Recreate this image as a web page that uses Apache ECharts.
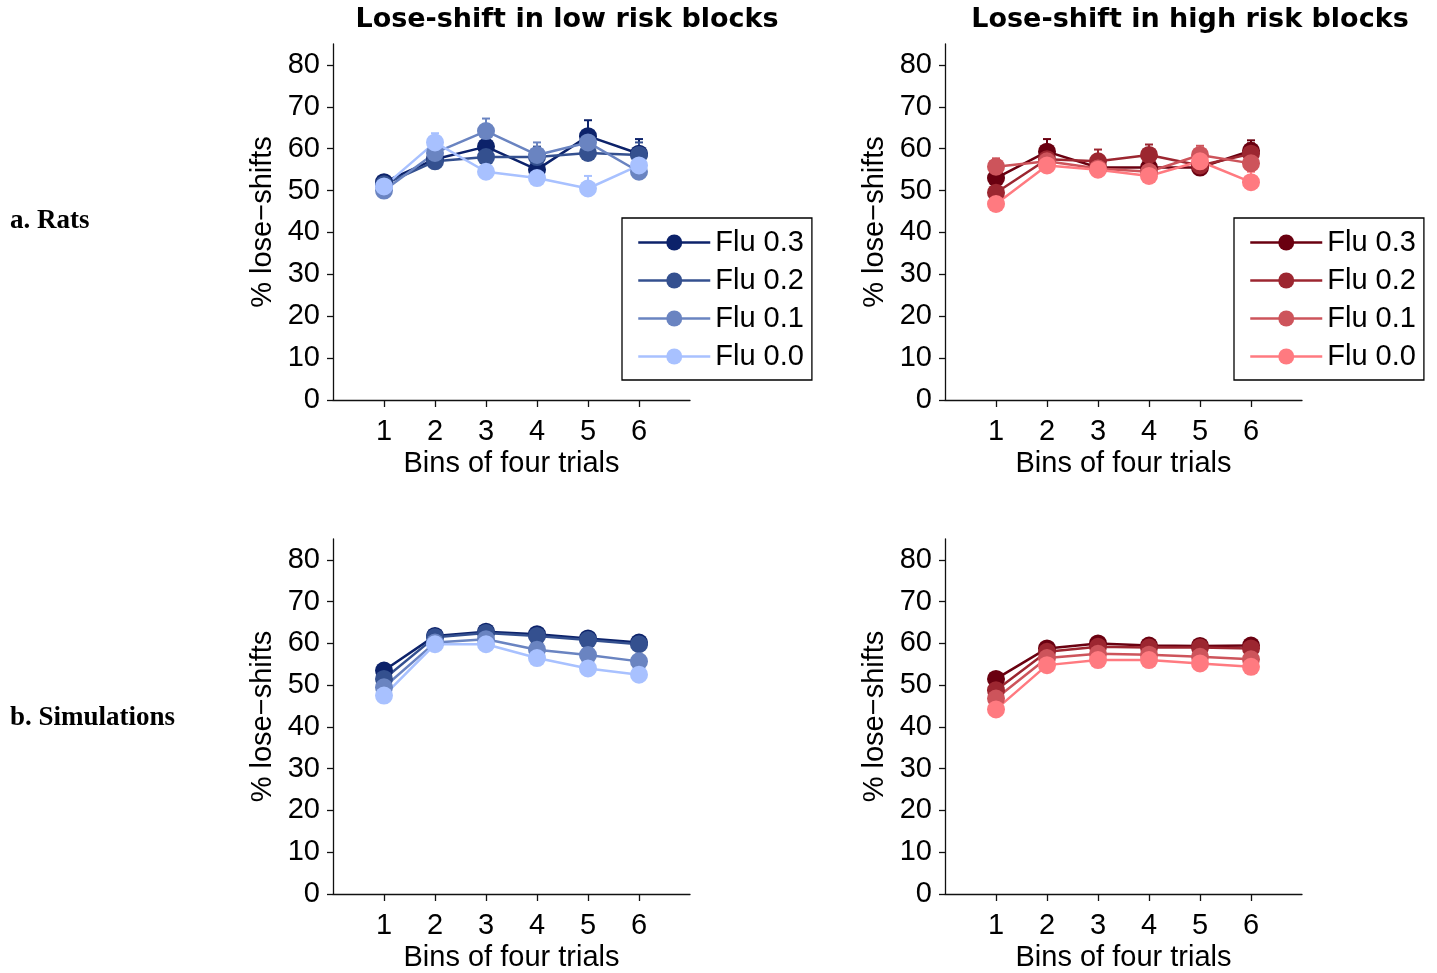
<!DOCTYPE html>
<html>
<head>
<meta charset="utf-8">
<script src="https://cdn.jsdelivr.net/npm/echarts@6/dist/echarts.min.js"></script>
<style>
  html, body { margin: 0; padding: 0; background: #fff; }
  #chart { width: 1437px; height: 973px; }
</style>
</head>
<body>
<div id="chart"></div>
<script>
// Bins on the x axis and tick values on the y axis
const bins = [1, 2, 3, 4, 5, 6];
const yTicks = [0, 10, 20, 30, 40, 50, 60, 70, 80];
const flu = ['Flu 0.3', 'Flu 0.2', 'Flu 0.1', 'Flu 0.0'];

// Rats, low risk blocks: % lose-shifts per bin (mean) and SEM
const ratsLow03 = [52, 57.5, 60.5, 55, 63, 58.8];
const ratsLow02 = [51.5, 57, 58, 58, 59, 58.5];
const ratsLow01 = [50, 59, 64.2, 58.5, 61.5, 54.5];
const ratsLow00 = [51, 61.5, 54.5, 53, 50.5, 56];
const semLow03 = [1.5, 2.5, 3, 2.5, 3.8, 3.5];
const semLow02 = [1.5, 2, 2.5, 2.5, 3, 3];
const semLow01 = [1.5, 2.5, 3, 3, 3, 3];
const semLow00 = [1.5, 2.2, 2.5, 2.5, 3, 2.5];

// Rats, high risk blocks
const ratsHigh03 = [53, 59.3, 55.5, 55.5, 55.5, 59.5];
const ratsHigh02 = [49.5, 57.5, 57, 58.5, 56, 58.8];
const ratsHigh01 = [55.7, 57, 55.3, 54.5, 58.5, 56.5];
const ratsHigh00 = [46.8, 56, 55, 53.5, 57, 52];
const semHigh03 = [2, 3, 3, 2.5, 2.5, 2.5];
const semHigh02 = [2, 2.5, 2.8, 2.5, 2.5, 2.5];
const semHigh01 = [2, 2.5, 2.5, 2.5, 2.2, 2.5];
const semHigh00 = [2, 2.5, 2.5, 2.5, 2.5, 2.5];

// Simulations, low risk blocks
const simLow03 = [53.5, 61.8, 62.8, 62.2, 61.2, 60.2];
const simLow02 = [51.5, 61.5, 62.5, 61.8, 60.8, 59.8];
const simLow01 = [49.5, 60.2, 61, 58.5, 57.2, 55.7];
const simLow00 = [47.5, 59.8, 59.8, 56.5, 54, 52.5];

// Simulations, high risk blocks
const simHigh03 = [51.5, 58.8, 60, 59.5, 59.4, 59.5];
const simHigh02 = [48.8, 58, 59.2, 59, 59, 58.8];
const simHigh01 = [46.8, 56.5, 57.5, 57.3, 56.8, 56.2];
const simHigh00 = [44.2, 54.8, 56, 56, 55.2, 54.4];

const blues = ['#0c226a', '#34508f', '#6a84c1', '#a8c1ff'];
const reds = ['#6a0010', '#9c2630', '#cd545b', '#ff7a80'];

const FONT = '"Liberation Sans", Arial, Helvetica, sans-serif';
const FS = 29;

// Panel frames: [left, top] of each plotting area
const panels = [
  { left: 333, top: 44 },   // rats, low risk
  { left: 945, top: 44 },   // rats, high risk
  { left: 333, top: 539 },  // simulations, low risk
  { left: 945, top: 539 }   // simulations, high risk
];
const PW = 357, PH = 356;

const grids = panels.map(p => ({ left: p.left, top: p.top, width: PW, height: PH, containLabel: false }));

const axisLineStyle = { color: '#111', width: 1.3 };

const xAxes = panels.map((p, i) => ({
  type: 'value', gridIndex: i, min: 0, max: 7,
  name: 'Bins of four trials', nameLocation: 'middle', nameGap: 49,
  nameTextStyle: { fontSize: FS, fontFamily: FONT, color: '#000' },
  axisLine: { show: true, lineStyle: axisLineStyle },
  axisTick: { show: true, length: 7, customValues: bins, lineStyle: axisLineStyle },
  axisLabel: { customValues: bins, fontSize: FS, fontFamily: FONT, color: '#000', margin: 17 },
  splitLine: { show: false }
}));

const yAxes = panels.map((p, i) => ({
  type: 'value', gridIndex: i, min: 0, max: 85,
  name: '% lose\u2212shifts', nameLocation: 'middle', nameGap: 56, nameRotate: 90,
  nameTextStyle: { fontSize: FS, fontFamily: FONT, color: '#000' },
  axisLine: { show: true, lineStyle: axisLineStyle },
  axisTick: { show: true, length: 6, customValues: yTicks, lineStyle: axisLineStyle },
  axisLabel: { customValues: yTicks, fontSize: FS, fontFamily: FONT, color: '#000', margin: 13 },
  splitLine: { show: false }
}));

function pairs(vals) { return bins.map((b, k) => [b, vals[k]]); }
function triples(vals, sem) { return bins.map((b, k) => [b, vals[k], sem[k]]); }

function lineSeries(name, vals, color, idx) {
  return {
    type: 'line', name: name, xAxisIndex: idx, yAxisIndex: idx,
    data: pairs(vals), symbol: 'circle', symbolSize: 18,
    lineStyle: { color: color, width: 2.5 },
    itemStyle: { color: color },
    emphasis: { disabled: true }, animation: false, z: 3
  };
}

// Upper SEM whisker with a small cap
function errSeries(vals, sem, color, idx) {
  return {
    type: 'custom', xAxisIndex: idx, yAxisIndex: idx, silent: true, animation: false, z: 2,
    data: triples(vals, sem),
    encode: { x: 0, y: 1 },
    renderItem: function (params, api) {
      const x = api.value(0), y = api.value(1), e = api.value(2);
      const p0 = api.coord([x, y]);
      const p1 = api.coord([x, y + e]);
      return {
        type: 'group',
        children: [
          { type: 'line', shape: { x1: p0[0], y1: p0[1], x2: p1[0], y2: p1[1] }, style: { stroke: color, lineWidth: 2 } },
          { type: 'line', shape: { x1: p1[0] - 4, y1: p1[1], x2: p1[0] + 4, y2: p1[1] }, style: { stroke: color, lineWidth: 2 } }
        ]
      };
    }
  };
}

const series = [];
const ratsLow = [ratsLow03, ratsLow02, ratsLow01, ratsLow00];
const semLow = [semLow03, semLow02, semLow01, semLow00];
const ratsHigh = [ratsHigh03, ratsHigh02, ratsHigh01, ratsHigh00];
const semHigh = [semHigh03, semHigh02, semHigh01, semHigh00];
const simLow = [simLow03, simLow02, simLow01, simLow00];
const simHigh = [simHigh03, simHigh02, simHigh01, simHigh00];

for (let k = 0; k < 4; k++) {
  series.push(errSeries(ratsLow[k], semLow[k], blues[k], 0));
  series.push(lineSeries(flu[k], ratsLow[k], blues[k], 0));
}
for (let k = 0; k < 4; k++) {
  series.push(errSeries(ratsHigh[k], semHigh[k], reds[k], 1));
  series.push(lineSeries(flu[k], ratsHigh[k], reds[k], 1));
}
for (let k = 0; k < 4; k++) series.push(lineSeries(flu[k], simLow[k], blues[k], 2));
for (let k = 0; k < 4; k++) series.push(lineSeries(flu[k], simHigh[k], reds[k], 3));

function legendFor(left, colors) {
  return {
    orient: 'vertical', left: left, top: 218,
    selectedMode: false,
    backgroundColor: '#fff',
    borderColor: '#000', borderWidth: 1.3, borderRadius: 0,
    padding: [10, 8, 9, 15],
    itemWidth: 72, itemHeight: 20, itemGap: 9,
    textStyle: { fontSize: FS, fontFamily: FONT, color: '#000' },
    data: flu.map((n, k) => ({
      name: n,
      itemStyle: { color: colors[k] },
      lineStyle: { color: colors[k], width: 2.5 }
    }))
  };
}

const option = {
  backgroundColor: '#fff',
  animation: false,
  grid: grids,
  xAxis: xAxes,
  yAxis: yAxes,
  legend: [legendFor(622, blues), legendFor(1234, reds)],
  graphic: [
    { type: 'text', x: 567, y: 20, style: { text: 'Lose-shift in low risk blocks', font: 'bold 27px "DejaVu Sans"', fill: '#000', textAlign: 'center', textVerticalAlign: 'middle' } },
    { type: 'text', x: 1190, y: 20, style: { text: 'Lose-shift in high risk blocks', font: 'bold 27px "DejaVu Sans"', fill: '#000', textAlign: 'center', textVerticalAlign: 'middle' } },
    { type: 'text', x: 10, y: 221, style: { text: 'a. Rats', font: 'bold 27px "Liberation Serif"', fill: '#000', textAlign: 'left', textVerticalAlign: 'middle' } },
    { type: 'text', x: 10, y: 718, style: { text: 'b. Simulations', font: 'bold 27px "Liberation Serif"', fill: '#000', textAlign: 'left', textVerticalAlign: 'middle' } }
  ],
  series: series
};

const chart = echarts.init(document.getElementById('chart'), null, { renderer: 'canvas' });
chart.setOption(option);
</script>
</body>
</html>
